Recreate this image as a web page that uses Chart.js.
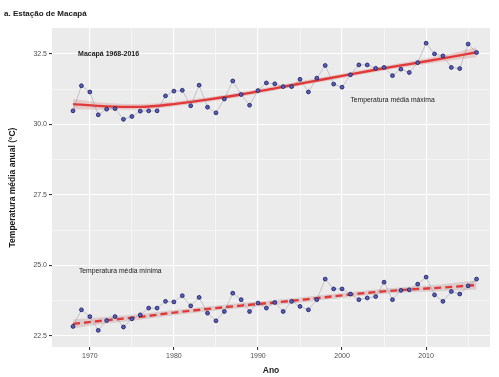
<!DOCTYPE html>
<html>
<head>
<meta charset="utf-8">
<script src="https://cdn.jsdelivr.net/npm/chart.js@4/dist/chart.umd.min.js"></script>
<style>
  html, body { margin: 0; padding: 0; background: #ffffff; }
  #wrap { width: 499px; height: 377px; }
</style>
</head>
<body>
<div id="wrap"><canvas id="c" width="499" height="377"></canvas></div>
<script>
// Annual series, Macapá station 1968–2016
const years = [1968,1969,1970,1971,1972,1973,1974,1975,1976,1977,1978,1979,1980,1981,1982,1983,1984,1985,1986,1987,1988,1989,1990,1991,1992,1993,1994,1995,1996,1997,1998,1999,2000,2001,2002,2003,2004,2005,2006,2007,2008,2009,2010,2011,2012,2013,2014,2015,2016];

const tMax = [30.48,31.37,31.15,30.34,30.54,30.56,30.18,30.28,30.47,30.48,30.48,31.01,31.18,31.21,30.66,31.39,30.61,30.41,30.90,31.54,31.06,30.68,31.20,31.47,31.44,31.34,31.34,31.60,31.15,31.64,32.09,31.43,31.32,31.76,32.11,32.11,31.99,32.02,31.73,31.96,31.84,32.19,32.88,32.50,32.43,32.02,31.98,32.85,32.55];

const tMin = [22.83,23.42,23.18,22.69,23.04,23.18,22.81,23.10,23.24,23.48,23.48,23.72,23.70,23.92,23.56,23.86,23.30,23.03,23.36,24.01,23.78,23.36,23.66,23.48,23.68,23.36,23.72,23.54,23.42,23.78,24.51,24.16,24.16,23.98,23.78,23.84,23.89,24.40,23.78,24.11,24.13,24.33,24.58,23.95,23.72,24.07,23.98,24.27,24.51];

// Smoothed trend (loess) and its confidence band, read at knot years
const trendYears = [1968,1972,1976,1980,1984,1988,1992,1996,2000,2004,2008,2012,2016];
const trendMax   = [30.72,30.64,30.62,30.72,30.88,31.06,31.28,31.50,31.72,31.94,32.14,32.34,32.56];
const bandMaxLo  = [30.54,30.52,30.52,30.63,30.80,30.98,31.20,31.42,31.64,31.86,32.05,32.23,32.38];
const bandMaxHi  = [30.90,30.76,30.72,30.81,30.96,31.14,31.36,31.58,31.80,32.02,32.23,32.45,32.74];
const trendMin   = [22.92,23.05,23.17,23.32,23.45,23.57,23.68,23.80,23.93,24.05,24.14,24.21,24.30];
const bandMinLo  = [22.76,22.93,23.07,23.23,23.36,23.48,23.59,23.71,23.84,23.96,24.04,24.09,24.13];
const bandMinHi  = [23.08,23.17,23.27,23.41,23.54,23.66,23.77,23.89,24.02,24.14,24.24,24.33,24.47];

// Axis ticks
const xTicks = [1970,1980,1990,2000,2010];
const xMinor = [1965,1975,1985,1995,2005,2015];
const yTicks = [22.5,25.0,27.5,30.0,32.5];
const yMinor = [23.75,26.25,28.75,31.25];

// Text
const chartTitle = 'a. Estação de Macapá';
const yTitle = 'Temperatura média anual (°C)';
const xTitle = 'Ano';
const stationLabel = 'Macapá 1968-2016';
const maxLabel = 'Temperatura média máxima';
const minLabel = 'Temperatura média mínima';

const pts = (xs, ys) => xs.map((x, i) => ({x: x, y: ys[i]}));

const FONT = '"Liberation Sans", Arial, sans-serif';
const pointStyle = {
  showLine: true,
  borderColor: 'rgba(120,120,140,0.6)',
  borderWidth: 0.6,
  pointRadius: 1.9,
  pointBackgroundColor: '#5a5fc0',
  pointBorderColor: '#1e2160',
  pointBorderWidth: 0.9,
  tension: 0
};
const trendStyle = {
  showLine: true,
  pointRadius: 0,
  cubicInterpolationMode: 'monotone',
  borderColor: 'rgba(226,40,40,0.9)',
  borderWidth: 2.4
};
const bandStyle = {
  showLine: true,
  pointRadius: 0,
  borderWidth: 0,
  borderColor: 'rgba(0,0,0,0)',
  cubicInterpolationMode: 'monotone',
  backgroundColor: 'rgba(215,130,130,0.32)'
};

const datasets = [
  Object.assign({ data: pts(years, tMax) }, pointStyle),
  Object.assign({ data: pts(years, tMin) }, pointStyle),
  Object.assign({ data: pts(trendYears, trendMax) }, trendStyle),
  Object.assign({ data: pts(trendYears, trendMin), borderDash: [7, 4] }, trendStyle),
  Object.assign({ data: pts(trendYears, bandMaxHi), fill: '+1' }, bandStyle),
  Object.assign({ data: pts(trendYears, bandMaxLo), fill: false }, bandStyle),
  Object.assign({ data: pts(trendYears, bandMinHi), fill: '+1' }, bandStyle, { backgroundColor: 'rgba(190,150,150,0.35)' }),
  Object.assign({ data: pts(trendYears, bandMinLo), fill: false }, bandStyle)
];

// Gray panel plus labels in data space
const panelAndText = {
  id: 'panelAndText',
  beforeDraw(chart) {
    const a = chart.chartArea, ctx = chart.ctx;
    ctx.save();
    ctx.fillStyle = '#ebebeb';
    ctx.fillRect(a.left, a.top, a.right - a.left, a.bottom - a.top);
    ctx.restore();
  },
  afterDraw(chart) {
    const ctx = chart.ctx, xs = chart.scales.x, ys = chart.scales.y;
    ctx.save();
    ctx.fillStyle = '#1a1a1a';
    ctx.textBaseline = 'middle';
    ctx.font = 'bold 8px ' + FONT;
    ctx.textAlign = 'left';
    ctx.fillText(chartTitle, 4, 14);

    ctx.font = 'bold 7px ' + FONT;
    ctx.fillText(stationLabel, xs.getPixelForValue(1968.6), ys.getPixelForValue(32.5));
    ctx.font = '6.8px ' + FONT;
    ctx.fillText(maxLabel, xs.getPixelForValue(2001.0), ys.getPixelForValue(30.85));
    ctx.fillText(minLabel, xs.getPixelForValue(1968.7), ys.getPixelForValue(24.8));

    ctx.font = 'bold 8.5px ' + FONT;
    ctx.textAlign = 'center';
    ctx.fillText(xTitle, (chart.chartArea.left + chart.chartArea.right) / 2, 371);
    ctx.translate(13, (chart.chartArea.top + chart.chartArea.bottom) / 2);
    ctx.rotate(-Math.PI / 2);
    ctx.fillText(yTitle, 0, 0);
    ctx.restore();
  }
};

const isMajor = (list, v) => list.some(t => Math.abs(t - v) < 1e-6);

new Chart(document.getElementById('c'), {
  type: 'scatter',
  data: { datasets: datasets },
  plugins: [panelAndText],
  options: {
    responsive: false,
    animation: false,
    devicePixelRatio: 1,
    layout: { padding: { top: 28, right: 9, bottom: 0, left: 0 } },
    plugins: { legend: { display: false }, tooltip: { enabled: false } },
    scales: {
      x: {
        type: 'linear',
        min: 1965.5,
        max: 2017.6,
        afterBuildTicks(scale) {
          scale.ticks = xMinor.concat(xTicks).sort((a, b) => a - b).map(v => ({ value: v }));
        },
        afterFit(scale) { scale.height = 30; },
        border: { display: false },
        grid: {
          drawOnChartArea: true,
          color: '#ffffff',
          lineWidth: c => isMajor(xTicks, c.tick.value) ? 1.1 : 0.5,
          tickLength: 3,
          tickColor: c => isMajor(xTicks, c.tick.value) ? '#333333' : 'rgba(0,0,0,0)'
        },
        ticks: {
          autoSkip: false,
          maxRotation: 0,
          padding: 2,
          color: '#4d4d4d',
          font: { family: FONT, size: 7 },
          callback: v => isMajor(xTicks, v) ? String(v) : ''
        }
      },
      y: {
        type: 'linear',
        min: 22.1,
        max: 33.42,
        afterBuildTicks(scale) {
          scale.ticks = yMinor.concat(yTicks).sort((a, b) => a - b).map(v => ({ value: v }));
        },
        afterFit(scale) { scale.width = 52; },
        border: { display: false },
        grid: {
          color: '#ffffff',
          lineWidth: c => isMajor(yTicks, c.tick.value) ? 1.1 : 0.5,
          tickLength: 3,
          tickColor: c => isMajor(yTicks, c.tick.value) ? '#333333' : 'rgba(0,0,0,0)'
        },
        ticks: {
          autoSkip: false,
          padding: 2,
          color: '#4d4d4d',
          font: { family: FONT, size: 7 },
          callback: v => isMajor(yTicks, v) ? v.toFixed(1) : ''
        }
      }
    }
  }
});
</script>
</body>
</html>
